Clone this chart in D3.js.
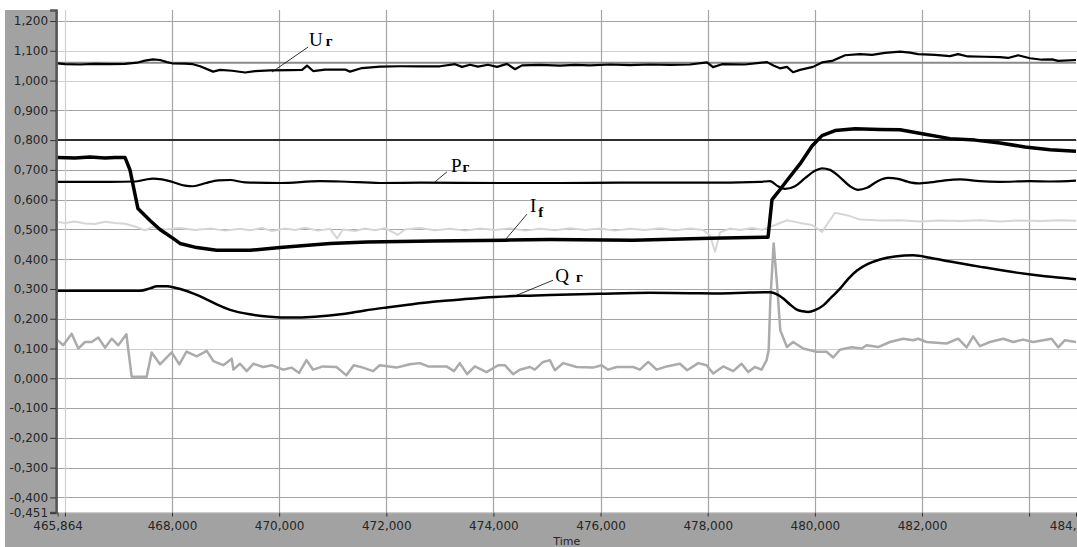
<!DOCTYPE html>
<html>
<head>
<meta charset="utf-8">
<script src="https://cdn.jsdelivr.net/npm/d3@7"></script>
<style>
  body { margin: 0; background: #fff; }
  svg { display: block; }
</style>
</head>
<body>
<svg id="chart" width="1077" height="547"></svg>
<script>
// ---- time range and value range (seconds / per-unit) ----
const timeDomain = [465.864, 484.875];
const valueDomain = [-0.451, 1.237];

const yTickValues = [-0.4, -0.3, -0.2, -0.1, 0, 0.1, 0.2, 0.3, 0.4, 0.5, 0.6, 0.7, 0.8, 0.9, 1.0, 1.1, 1.2];
const yLightGrid = [1.1, 1.0, 0.1];
const xGridValues = [466, 468, 470, 472, 474, 476, 478, 480, 482, 484];
const xLightGrid = [466];
const xTickValues = [465.864, 466, 468, 470, 472, 474, 476, 478, 480, 482, 484, 484.875];
const xUnlabelled = [466, 484];
const xEndLabel = "484,";

// constant setpoint lines
const uSetpoint = 1.06;
const pLimit = 0.80;

// generator voltage U
const seriesU = [
  [465.864,1.058],[466.002,1.055],[466.282,1.054],[466.562,1.056],[466.842,1.055],[467.122,1.056],
  [467.346,1.060],[467.495,1.067],[467.645,1.071],[467.775,1.069],[467.906,1.062],[468.000,1.058],
  [468.243,1.057],[468.392,1.055],[468.523,1.048],[468.766,1.030],[468.897,1.036],[469.121,1.033],
  [469.364,1.027],[469.550,1.032],[469.830,1.034],[470.204,1.035],[470.428,1.036],[470.521,1.050],
  [470.633,1.032],[470.857,1.037],[471.230,1.037],[471.323,1.030],[471.547,1.042],[471.883,1.047],
  [472.256,1.048],[472.630,1.048],[473.003,1.048],[473.283,1.055],[473.414,1.046],[473.563,1.053],
  [473.713,1.047],[473.899,1.053],[474.067,1.046],[474.254,1.056],[474.403,1.038],[474.534,1.051],
  [474.870,1.053],[475.243,1.050],[475.523,1.053],[475.803,1.051],[476.176,1.054],[476.550,1.052],
  [476.923,1.054],[477.296,1.053],[477.670,1.054],[477.987,1.061],[478.099,1.045],[478.267,1.055],
  [478.696,1.054],[479.107,1.062],[479.237,1.050],[479.349,1.041],[479.480,1.046],[479.592,1.028],
  [479.723,1.036],[479.966,1.046],[480.134,1.061],[480.321,1.066],[480.564,1.085],[480.844,1.089],
  [481.068,1.086],[481.310,1.093],[481.590,1.097],[481.777,1.094],[481.926,1.089],[482.243,1.086],
  [482.523,1.082],[482.673,1.089],[482.859,1.081],[483.177,1.080],[483.457,1.079],[483.606,1.076],
  [483.793,1.085],[484.017,1.075],[484.241,1.070],[484.428,1.071],[484.540,1.066],[484.875,1.069]
];

// active power P
const seriesP = [
  [465.864,0.660],[466.282,0.660],[466.842,0.660],[467.309,0.661],[467.495,0.667],[467.645,0.671],
  [467.813,0.668],[468.000,0.660],[468.243,0.647],[468.392,0.645],[468.617,0.655],[468.860,0.665],
  [469.084,0.666],[469.364,0.658],[470.017,0.656],[470.764,0.662],[471.138,0.661],[471.883,0.656],
  [472.630,0.657],[474.123,0.656],[475.243,0.656],[476.363,0.657],[477.857,0.657],[478.977,0.660],
  [479.163,0.662],[479.312,0.645],[479.443,0.636],[479.629,0.645],[479.816,0.672],[480.002,0.697],
  [480.134,0.705],[480.283,0.700],[480.470,0.675],[480.657,0.645],[480.806,0.633],[480.974,0.640],
  [481.180,0.663],[481.366,0.673],[481.552,0.670],[481.739,0.660],[481.926,0.655],[482.150,0.658],
  [482.430,0.665],[482.710,0.668],[483.083,0.662],[483.457,0.660],[484.017,0.662],[484.390,0.661],
  [484.875,0.664]
];

// field current If
const seriesIf = [
  [465.864,0.742],[466.189,0.740],[466.469,0.743],[466.749,0.740],[466.935,0.742],[467.122,0.742],
  [467.215,0.700],[467.364,0.570],[467.589,0.530],[467.775,0.500],[468.019,0.470],[468.149,0.453],
  [468.461,0.439],[468.834,0.430],[469.456,0.430],[470.017,0.439],[470.950,0.453],[471.641,0.458],
  [472.873,0.461],[474.217,0.464],[475.057,0.466],[476.606,0.464],[478.043,0.470],[479.126,0.474],
  [479.200,0.600],[479.312,0.625],[479.461,0.660],[479.723,0.720],[479.947,0.780],[480.134,0.815],
  [480.377,0.832],[480.750,0.838],[481.217,0.836],[481.590,0.835],[482.057,0.820],[482.523,0.805],
  [482.990,0.800],[483.457,0.790],[483.923,0.777],[484.390,0.768],[484.875,0.763]
];

// reactive power Q
const seriesQ = [
  [465.864,0.294],[467.403,0.294],[467.589,0.302],[467.720,0.309],[467.907,0.309],[468.056,0.304],
  [468.243,0.295],[468.392,0.285],[468.616,0.268],[468.834,0.248],[469.083,0.230],[469.456,0.215],
  [469.829,0.207],[470.203,0.204],[470.670,0.207],[471.192,0.216],[471.603,0.228],[472.008,0.238],
  [472.443,0.248],[472.872,0.257],[473.469,0.266],[474.029,0.273],[474.496,0.277],[475.056,0.280],
  [475.989,0.284],[476.923,0.287],[477.670,0.286],[478.168,0.285],[478.790,0.288],[479.163,0.289],
  [479.294,0.282],[479.411,0.268],[479.536,0.248],[479.661,0.231],[479.779,0.225],[479.878,0.223],
  [480.003,0.229],[480.158,0.245],[480.302,0.271],[480.470,0.301],[480.619,0.333],[480.781,0.361],
  [480.992,0.384],[481.216,0.399],[481.496,0.409],[481.838,0.413],[482.150,0.405],[482.523,0.392],
  [483.139,0.373],[483.768,0.355],[484.296,0.343],[484.875,0.333]
];

// auxiliary signal, light grey
const seriesLight = [
  [465.864,0.525],[466.002,0.522],[466.189,0.527],[466.375,0.520],[466.562,0.518],[466.749,0.526],
  [466.935,0.522],[467.122,0.519],[467.309,0.510],[467.495,0.497],[467.626,0.508],[467.869,0.500],
  [468.149,0.505],[468.429,0.498],[468.710,0.503],[468.990,0.496],[469.270,0.502],[469.457,0.497],
  [469.681,0.505],[469.867,0.495],[470.110,0.503],[470.297,0.498],[470.484,0.506],[470.726,0.496],
  [470.950,0.502],[471.081,0.470],[471.193,0.500],[471.417,0.495],[471.603,0.503],[471.790,0.497],
  [471.977,0.504],[472.220,0.482],[472.350,0.500],[472.630,0.505],[472.910,0.497],[473.190,0.502],
  [473.470,0.496],[473.750,0.503],[474.030,0.498],[474.310,0.504],[474.590,0.496],[474.870,0.502],
  [475.150,0.497],[475.430,0.504],[475.710,0.498],[475.990,0.503],[476.270,0.496],[476.550,0.502],
  [476.830,0.498],[477.110,0.504],[477.390,0.497],[477.670,0.503],[477.913,0.498],[478.043,0.480],
  [478.137,0.425],[478.230,0.490],[478.417,0.503],[478.604,0.498],[478.828,0.505],[479.014,0.499],
  [479.257,0.515],[479.480,0.531],[479.723,0.522],[479.947,0.515],[480.134,0.492],[480.377,0.556],
  [480.601,0.548],[480.844,0.533],[481.217,0.530],[481.590,0.531],[481.963,0.527],[482.337,0.530],
  [482.710,0.528],[483.083,0.531],[483.457,0.527],[483.830,0.530],[484.203,0.528],[484.577,0.531],
  [484.875,0.529]
];

// auxiliary signal, mid grey
const seriesGrey = [
  [465.864,0.128],[465.970,0.111],[466.127,0.150],[466.250,0.100],[466.375,0.122],[466.500,0.122],
  [466.623,0.137],[466.749,0.103],[466.874,0.133],[466.997,0.111],[467.148,0.148],[467.247,0.005],
  [467.527,0.005],[467.620,0.087],[467.776,0.047],[467.994,0.087],[468.136,0.047],[468.270,0.090],
  [468.461,0.074],[468.648,0.092],[468.771,0.058],[468.958,0.044],[469.115,0.066],[469.145,0.029],
  [469.269,0.049],[469.395,0.024],[469.518,0.049],[469.705,0.038],[469.862,0.044],[470.075,0.029],
  [470.230,0.036],[470.372,0.018],[470.510,0.061],[470.633,0.029],[470.819,0.040],[471.069,0.038],
  [471.256,0.010],[471.392,0.044],[471.566,0.036],[471.753,0.024],[471.878,0.044],[472.190,0.036],
  [472.438,0.047],[472.625,0.051],[472.780,0.040],[473.124,0.040],[473.262,0.024],[473.372,0.051],
  [473.509,0.014],[473.653,0.040],[473.871,0.021],[474.088,0.044],[474.213,0.044],[474.367,0.014],
  [474.493,0.029],[474.680,0.038],[474.773,0.029],[474.928,0.055],[475.053,0.061],[475.146,0.027],
  [475.302,0.051],[475.552,0.038],[475.862,0.036],[476.019,0.044],[476.142,0.029],[476.299,0.038],
  [476.609,0.038],[476.734,0.029],[476.889,0.055],[477.046,0.029],[477.232,0.040],[477.481,0.049],
  [477.617,0.027],[477.822,0.051],[477.979,0.044],[478.102,0.016],[478.289,0.040],[478.476,0.024],
  [478.632,0.049],[478.756,0.021],[478.881,0.038],[479.006,0.029],[479.099,0.061],[479.138,0.095],
  [479.169,0.262],[479.231,0.453],[479.293,0.318],[479.355,0.161],[479.479,0.105],[479.595,0.122],
  [479.782,0.100],[480.032,0.089],[480.218,0.089],[480.343,0.070],[480.468,0.096],[480.686,0.104],
  [480.873,0.100],[480.966,0.111],[481.182,0.105],[481.401,0.122],[481.649,0.133],[481.836,0.128],
  [481.929,0.133],[482.086,0.122],[482.459,0.117],[482.676,0.133],[482.833,0.104],[482.956,0.141],
  [483.081,0.108],[483.268,0.122],[483.516,0.133],[483.703,0.122],[483.889,0.130],[484.076,0.122],
  [484.263,0.128],[484.420,0.133],[484.543,0.104],[484.668,0.128],[484.875,0.122]
];

// curve labels: main letter, index letter, text anchor and leader line (data units)
const curveLabels = [
  { main: "U", sub: "г", subShift: 0, gap: 3, at: [470.557, 1.1176], leader: [[470.540, 1.1126], [469.866, 1.0286]] },
  { main: "P", sub: "г", subShift: 0, gap: 1, at: [473.207, 0.6924], leader: [[473.132, 0.6934], [472.908, 0.6598]] },
  { main: "I", sub: "f", subShift: 5, gap: 2, at: [474.682, 0.5580], leader: [[474.626, 0.5513], [474.216, 0.4639]] },
  { main: "Q", sub: "г", subShift: 0, gap: 7, at: [475.155, 0.3226], leader: [[475.112, 0.3294], [474.434, 0.2790]] }
];

// ---- drawing ----
const svg = d3.select("#chart");
const W = 1077, H = 547;
const plot = { left: 57.6, right: 1076, top: 10, bottom: 512.6 };

const x = d3.scaleLinear().domain(timeDomain).range([plot.left, plot.right]);
const y = d3.scaleLinear().domain(valueDomain).range([plot.bottom, plot.top]);

const locale = d3.formatLocale({ decimal: ",", thousands: " ", grouping: [3], currency: ["", ""], minus: "-" });
const fmt = locale.format(".3f");

// panels
svg.append("rect").attr("x", 0).attr("y", 0).attr("width", W).attr("height", H).attr("fill", "#fff");
svg.append("rect").attr("x", 5).attr("y", plot.top).attr("width", plot.left - 5).attr("height", H - plot.top).attr("fill", "#a2a2a2");
svg.append("rect").attr("x", 5).attr("y", plot.bottom).attr("width", W - 5).attr("height", H - plot.bottom).attr("fill", "#a2a2a2");

svg.append("defs").append("clipPath").attr("id", "plotClip")
  .append("rect").attr("x", plot.left).attr("y", plot.top)
  .attr("width", plot.right - plot.left + 1).attr("height", plot.bottom - plot.top);

// grid
const grid = svg.append("g").attr("clip-path", "url(#plotClip)");
grid.selectAll("line.h").data(yTickValues).join("line")
  .attr("x1", plot.left).attr("x2", W)
  .attr("y1", d => Math.round(y(d)) + 0.5).attr("y2", d => Math.round(y(d)) + 0.5)
  .attr("stroke", d => yLightGrid.some(v => Math.abs(v - d) < 1e-9) ? "#cfcfcf" : "#a4a4a4")
  .attr("stroke-width", 1.2);
grid.selectAll("line.v").data(xGridValues).join("line")
  .attr("y1", plot.top).attr("y2", plot.bottom)
  .attr("x1", d => Math.round(x(d)) + 0.5).attr("x2", d => Math.round(x(d)) + 0.5)
  .attr("stroke", d => xLightGrid.includes(d) ? "#cfcfcf" : "#a4a4a4")
  .attr("stroke-width", 1.2);

// axes
const yAxis = svg.append("g").attr("transform", `translate(${plot.left - 1.5},0)`)
  .call(d3.axisLeft(y).tickValues([...yTickValues, valueDomain[0]]).tickFormat(fmt).tickSize(6).tickPadding(2));
yAxis.select(".domain").attr("stroke", "#555").attr("stroke-width", 2.5);
yAxis.selectAll(".tick line").attr("stroke", "#333");
yAxis.selectAll(".tick text").attr("fill", "#262626").style("font-family", "DejaVu Sans, Verdana, sans-serif").style("font-size", "12px");

// the last tick sits on the right edge; only its integer part fits
const xLabel = d => xUnlabelled.includes(d) ? "" : (d === timeDomain[1] ? xEndLabel : fmt(d));
const xAxis = svg.append("g").attr("transform", `translate(0,${plot.bottom})`)
  .call(d3.axisBottom(x).tickValues(xTickValues).tickFormat(xLabel).tickSize(4).tickPadding(5));
xAxis.select(".domain").attr("stroke", "#b8b8b8").attr("stroke-width", 1);
xAxis.selectAll(".tick line").attr("stroke", "#333");
xAxis.selectAll(".tick text").attr("fill", "#262626").style("font-family", "DejaVu Sans, Verdana, sans-serif").style("font-size", "12px");
xAxis.selectAll(".tick text").filter(d => d === timeDomain[1]).attr("text-anchor", "end").attr("dx", 0);

svg.append("text").attr("x", (plot.left + plot.right) / 2).attr("y", 545)
  .attr("text-anchor", "middle").attr("fill", "#262626")
  .style("font-family", "DejaVu Sans, Verdana, sans-serif").style("font-size", "11px").text("Time");

// curves
const marks = svg.append("g").attr("clip-path", "url(#plotClip)");
const lineLin = d3.line().x(d => x(d[0])).y(d => y(d[1]));
const lineSmooth = d3.line().x(d => x(d[0])).y(d => y(d[1])).curve(d3.curveMonotoneX);

const hLine = v => [[timeDomain[0], v], [timeDomain[1], v]];
marks.append("path").attr("d", lineLin(hLine(uSetpoint))).attr("fill", "none").attr("stroke", "#8a8a8a").attr("stroke-width", 2);
marks.append("path").attr("d", lineLin(hLine(pLimit))).attr("fill", "none").attr("stroke", "#2e2e2e").attr("stroke-width", 2);

marks.append("path").attr("d", lineLin(seriesLight)).attr("fill", "none").attr("stroke", "#d6d6d6").attr("stroke-width", 2).attr("stroke-linejoin", "round");
marks.append("path").attr("d", lineLin(seriesGrey)).attr("fill", "none").attr("stroke", "#ababab").attr("stroke-width", 2.5).attr("stroke-linejoin", "round");
marks.append("path").attr("d", lineSmooth(seriesQ)).attr("fill", "none").attr("stroke", "#000").attr("stroke-width", 2.5);
marks.append("path").attr("d", lineSmooth(seriesP)).attr("fill", "none").attr("stroke", "#000").attr("stroke-width", 2.2);
marks.append("path").attr("d", lineLin(seriesIf)).attr("fill", "none").attr("stroke", "#000").attr("stroke-width", 3.5).attr("stroke-linejoin", "round");
marks.append("path").attr("d", lineLin(seriesU)).attr("fill", "none").attr("stroke", "#000").attr("stroke-width", 2.2).attr("stroke-linejoin", "round");

// labels with leader lines
const lab = svg.append("g");
curveLabels.forEach(c => {
  lab.append("line")
    .attr("x1", x(c.leader[0][0])).attr("y1", y(c.leader[0][1]))
    .attr("x2", x(c.leader[1][0])).attr("y2", y(c.leader[1][1]))
    .attr("stroke", "#000").attr("stroke-width", 0.8);
  const t = lab.append("text").attr("x", x(c.at[0])).attr("y", y(c.at[1]))
    .style("font-family", "Liberation Serif, Times New Roman, serif").attr("fill", "#000");
  t.append("tspan").style("font-size", "19px").text(c.main);
  t.append("tspan").attr("dx", c.gap).attr("dy", c.subShift).style("font-size", "15px").style("font-weight", "bold").text(c.sub);
});
</script>
</body>
</html>
